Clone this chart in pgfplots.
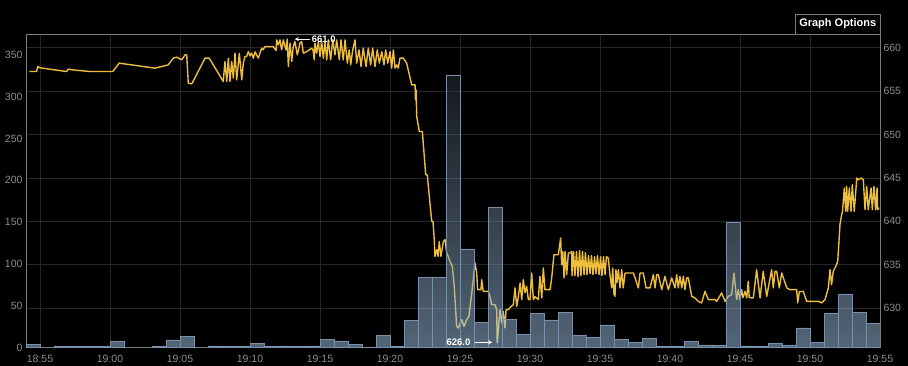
\documentclass[border=0pt]{standalone}
\usepackage{pgfplots}
\pgfplotsset{compat=1.18}
\usepackage{fontspec}
\setmainfont{Liberation Sans}
\definecolor{gridc}{HTML}{262626}
\definecolor{framec}{HTML}{7A7A7A}
\definecolor{tickc}{HTML}{8C8C8C}
\definecolor{linec}{HTML}{EDBD3C}
\definecolor{bartop}{HTML}{2A323B}
\definecolor{barbot}{HTML}{A6CCEE}
\definecolor{baredge}{HTML}{7890A8}
\begin{document}
\begin{tikzpicture}[x=1pt,y=1pt]
\fill[black] (-26,-18.5) rectangle (882,347.5);
\useasboundingbox (-26,-18.5) rectangle (882,347.5);
% ---------- line axis (right scale) ----------
\begin{axis}[
  at={(0,0)}, anchor=south west,
  width=854pt, height=313.5pt, scale only axis,
  xmin=54, xmax=115, ymin=625.45, ymax=661.6,
  axis line style={framec, line width=0.8pt},
  xtick={55,60,65,70,75,80,85,90,95,100,105,110,115},
  xticklabels={18:55,19:00,19:05,19:10,19:15,19:20,19:25,19:30,19:35,19:40,19:45,19:50,19:55},
  ytick={630,635,640,645,650,655,660},
  yticklabel pos=right,
  grid=major, major grid style={gridc, line width=0.8pt},
  tick style={draw=none},
  /pgf/number format/assume math mode=true,
  ticklabel style={tickc, font=\fontsize{10.5}{12}\selectfont},
  xticklabel style={yshift=-4pt},
  clip mode=individual,
]
\addplot[linec, line width=1.4pt, line join=round] coordinates {
(54.24,657.27) (54.76,657.27) (54.84,657.85) (55.00,657.70) (56.91,657.27) (57.02,657.55) (57.29,657.47) (58.57,657.27) (60.19,657.27) (60.66,658.24) (63.21,657.66) (64.16,658.04) (64.52,658.81) (64.76,658.93) (65.12,658.62) (65.36,659.19) (65.48,659.19) (65.59,655.93) (65.84,655.85) (66.79,658.81) (67.09,658.81)
(68.09,656.12) (68.21,658.42) (68.34,656.12) (68.45,658.81) (68.57,656.12) (68.69,658.42) (68.81,656.51) (68.93,659.39) (69.05,656.31) (69.24,659.39) (69.41,656.31) (69.52,658.24) (69.64,659.00) (69.76,659.00) (69.88,659.57) (70.00,659.08) (70.12,659.39) (70.24,658.81) (70.36,659.54) (70.59,658.81) (70.71,659.39) (70.84,659.97) (70.93,659.77) (71.07,660.15) (71.66,660.15) (71.86,659.69) (71.91,660.92) (72.02,660.35) (72.14,660.92) (72.26,659.77) (72.38,660.92) (72.57,659.77) (72.66,661.00) (72.74,657.85) (72.86,660.54) (72.98,658.42) (73.09,660.15) (73.21,660.73) (73.38,659.19) (73.57,660.54) (73.69,660.73) (73.81,659.39) (74.05,659.57) (74.41,659.97) (74.50,659.77) (74.59,658.62) (74.64,660.54) (74.76,659.39) (74.88,660.73) (75.00,659.00) (75.12,660.73) (75.24,658.81) (75.36,660.73) (75.48,658.62) (75.59,660.92) (75.76,658.62) (75.91,660.92) (76.07,659.19) (76.19,660.92) (76.38,658.62) (76.50,660.92) (76.66,658.62) (76.79,660.92) (76.95,658.24) (77.09,659.77) (77.19,658.04) (77.34,659.77) (77.50,660.92) (77.62,658.24) (77.79,659.77) (77.93,657.85) (78.09,659.97) (78.29,657.85) (78.45,659.97) (78.62,658.04) (78.76,659.97) (78.93,657.85) (79.09,659.77) (79.24,658.24) (79.41,659.57) (79.57,658.04) (79.69,659.77) (79.84,658.24) (80.00,659.57) (80.12,657.66) (80.24,659.77) (80.36,657.66) (80.48,658.04) (80.59,657.66) (80.71,658.81) (80.95,658.81) (81.19,658.24) (81.55,655.74)
(81.79,655.74) (81.82,654.01) (81.86,655.16) (81.91,652.09) (82.09,650.36) (82.31,650.36) (82.55,645.37) (82.66,645.37) (82.98,639.99) (83.07,639.99) (83.16,637.88) (83.21,635.96) (83.34,636.73) (83.43,635.96) (83.52,637.65) (83.64,635.96) (83.81,637.68) (83.93,637.88) (84.05,636.35) (84.16,635.96) (84.29,635.38) (84.45,634.80) (84.59,632.50) (84.76,627.89) (84.88,627.71) (85.12,628.66) (85.29,627.89) (85.48,628.66) (85.64,629.04) (85.84,631.74) (85.95,633.27) (86.07,635.20) (86.19,634.08) (86.26,632.12) (86.50,632.12) (86.55,633.27) (86.66,631.92) (87.02,631.92) (87.14,631.35) (87.26,630.39) (87.50,630.39) (87.62,629.82) (87.66,626.00) (87.86,629.82) (87.98,628.28) (88.09,629.62) (88.21,627.71) (88.29,629.82) (88.45,629.82) (88.64,630.16) (88.81,630.39) (88.93,632.32) (89.05,630.20) (89.16,631.20) (89.29,632.89) (89.41,630.97) (89.52,633.27) (89.64,631.77) (89.76,632.50) (89.88,630.97) (90.00,630.97) (90.12,634.04) (90.24,630.97) (90.36,631.31) (90.59,630.97) (90.71,633.65) (90.84,631.16) (90.95,634.62) (91.07,632.12) (91.43,632.12) (91.55,633.47) (91.71,636.15) (92.02,636.15) (92.09,636.92) (92.19,638.08) (92.26,635.00) (92.34,636.50) (92.43,633.47) (92.50,636.53) (92.62,633.85) (92.74,636.35) (92.86,636.35) (92.98,636.53)
(93.00,633.73) (93.11,636.50) (93.21,633.73) (93.32,636.50) (93.43,633.62) (93.54,636.61) (93.64,633.73) (93.75,636.50) (93.86,633.85) (93.96,636.38) (94.07,633.85) (94.18,636.04) (94.29,633.96) (94.39,636.04) (94.50,633.85) (94.61,635.92) (94.71,633.96) (94.82,636.04) (94.93,633.85) (95.04,635.92) (95.14,633.73) (95.25,635.92) (95.36,633.85) (95.46,635.92) (95.59,635.77) (95.71,633.85) (95.84,632.32) (95.91,634.62) (96.00,631.54) (96.07,631.35) (96.14,634.42) (96.21,632.93) (96.31,634.42) (96.43,632.32) (96.55,634.42) (96.66,632.32) (96.79,634.04) (97.38,634.04) (97.50,633.50) (97.74,632.32) (97.86,634.04) (98.09,634.04) (98.29,632.32) (98.57,632.32) (98.81,633.85) (98.93,632.32) (99.05,633.85) (99.16,633.85) (99.41,632.12) (99.64,633.65) (99.88,632.12) (100.12,633.47) (100.36,632.32) (100.48,633.85) (100.59,632.32) (100.71,633.65) (100.84,632.32) (100.95,633.65) (101.07,632.12) (101.19,633.47) (101.31,633.47) (101.55,631.35) (101.79,631.16) (102.02,630.77)
(102.26,630.59) (102.50,631.92) (102.74,630.97) (103.21,630.97) (103.34,630.77) (103.69,631.74) (103.93,630.77) (104.16,631.35) (104.41,631.54) (104.57,634.04) (104.76,630.97) (104.88,632.12) (105.00,630.97) (105.12,632.12) (105.21,631.20) (105.36,631.92) (105.48,631.16) (105.59,633.08) (105.66,631.20) (105.95,631.16) (106.19,634.42) (106.43,631.16) (106.66,634.23) (106.91,631.35) (107.26,634.42) (107.38,632.32) (107.50,634.23) (107.62,634.23) (107.81,632.32) (107.98,634.04) (108.34,632.32) (108.57,632.12) (109.05,632.12) (109.12,630.59) (109.24,631.89) (109.52,631.92) (109.76,630.77) (110.59,630.77) (110.84,630.59) (111.07,630.97) (111.31,632.32) (111.43,634.42) (111.54,632.70) (111.66,634.23) (111.84,634.80) (111.98,635.38) (112.07,637.68) (112.14,639.61) (112.26,640.76) (112.32,641.11) (112.45,643.84) (112.55,641.14) (112.62,644.02) (112.69,641.14) (112.81,643.84) (112.93,641.14) (113.02,644.22) (113.16,641.14) (113.34,644.99) (113.45,644.79) (113.64,644.99) (113.81,644.79) (113.93,641.34) (114.05,644.02) (114.16,641.34) (114.36,643.84) (114.45,641.34) (114.57,644.02) (114.69,641.34) (114.79,643.84) (114.83,641.34) (114.93,641.57)
};
\end{axis}
% ---------- bar axis (left scale) ----------
\begin{axis}[
  at={(0,0)}, anchor=south west,
  width=854pt, height=313.5pt, scale only axis,
  xmin=54, xmax=115, ymin=0, ymax=375,
  hide x axis,
  axis y line*=left,
  axis line style={framec, line width=0.8pt},
  ytick={0,50,100,150,200,250,300,350},
  tick style={draw=none},
  /pgf/number format/assume math mode=true,
  ticklabel style={tickc, font=\fontsize{10.5}{12}\selectfont},
  ybar, bar width=1, bar shift=0pt,
  clip mode=individual,
]
\addplot[draw=baredge, line width=0.6pt, top color=bartop, middle color=bartop!70!barbot, bottom color=barbot, fill opacity=0.5] coordinates {
(54.5,4) (56.5,1) (57.5,1) (58.5,1) (59.5,1) (60.5,7) (63.5,1) (64.5,9) (65.5,13) (67.5,2) (68.5,1) (69.5,1) (70.5,4.5) (71.5,1) (72.5,2) (73.5,1.5) (74.5,2) (75.5,10) (76.5,8) (77.5,4) (78.5,0.5) (79.5,14) (80.5,1) (81.5,32) (82.5,84) (83.5,84) (84.5,325) (85.5,118) (86.5,30) (87.5,168) (88.5,34) (89.5,16) (90.5,41) (91.5,33) (92.5,42) (93.5,14) (94.5,12) (95.5,27) (96.5,10) (97.5,6) (98.5,11) (99.5,1) (100.5,1) (101.5,7) (102.5,3) (103.5,2.5) (104.5,150) (105.5,2) (106.5,1) (107.5,5) (108.5,3) (109.5,23.5) (110.5,6) (111.5,41) (112.5,64) (113.5,42) (114.5,29)
};
\end{axis}
% annotations
\begin{axis}[
  at={(0,0)}, anchor=south west,
  width=854pt, height=313.5pt, scale only axis,
  xmin=54, xmax=115, ymin=625.45, ymax=661.6,
  hide axis, clip=false,
]
\draw[white, line width=0.8pt, -stealth] (axis cs:74.25,661.0) -- (axis cs:73.2,661.0);
\node[white, anchor=west, inner sep=0pt, font=\bfseries\fontsize{9.5}{10}\selectfont] at (axis cs:74.4,661.0) {661.0};
\node[white, anchor=east, inner sep=0pt, font=\bfseries\fontsize{9.5}{10}\selectfont] at (axis cs:85.75,626.05) {626.0};
\draw[white, line width=0.8pt, -stealth] (axis cs:86.1,626.05) -- (axis cs:87.3,626.05);
\end{axis}
% Graph Options button
\draw[framec, line width=0.8pt, fill=black] (769.5,313.5) rectangle (854,333.5);
\node[white, font=\bfseries\fontsize{11}{12}\selectfont] at (811.75,323.5) {Graph Options};
\end{tikzpicture}
\end{document}
